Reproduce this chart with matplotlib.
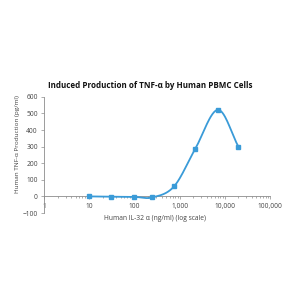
import numpy as np
import matplotlib
matplotlib.use('Agg')
import matplotlib.pyplot as plt
from matplotlib.ticker import FixedLocator, LogLocator, NullFormatter

# data
conc = [10, 30, 100, 250, 750, 2200, 7000, 20000]
tnf = [0, -2, -3, -6, 60, 285, 522, 300]
xticks = [1, 10, 100, 1000, 10000, 100000]
xticklabels = ['1', '10', '100', '1,000', '10,000', '100,000']
yticks = [-100, 0, 100, 200, 300, 400, 500, 600]

blue = '#3a9bd8'
grey = '#8c8c8c'
txt = '#444444'
plt.rcParams['font.family'] = ['Open Sans', 'DejaVu Sans']


# smooth line through the points (catmull-rom in log-x space)
def smooth(xs, ys, n=30):
    px = np.log10(xs)
    py = np.array(ys, dtype=float)
    px = np.concatenate([[2*px[0]-px[1]], px, [2*px[-1]-px[-2]]])
    py = np.concatenate([[2*py[0]-py[1]], py, [2*py[-1]-py[-2]]])
    outx, outy = [], []
    t = np.linspace(0, 1, n)
    for i in range(1, len(px)-2):
        for arr, out in ((px, outx), (py, outy)):
            p0, p1, p2, p3 = arr[i-1], arr[i], arr[i+1], arr[i+2]
            m1 = (p2 - p0) / 2
            m2 = (p3 - p1) / 2
            h00 = 2*t**3 - 3*t**2 + 1
            h10 = t**3 - 2*t**2 + t
            h01 = -2*t**3 + 3*t**2
            h11 = t**3 - t**2
            out.extend(h00*p1 + h10*m1 + h01*p2 + h11*m2)
    return 10**np.array(outx), np.array(outy)


fig = plt.figure(figsize=(3, 3), dpi=100)
ax = fig.add_axes([0.147, 0.29, 0.753, 0.387])

sx, sy = smooth(conc, tnf)
ax.plot(sx, sy, color=blue, lw=1.3, zorder=3)
ax.plot(conc, tnf, 's', color=blue, ms=3.2, zorder=4)

ax.set_xscale('log')
ax.set_xlim(1, 100000)
ax.set_ylim(-100, 600)

ax.xaxis.set_major_locator(FixedLocator(xticks))
ax.set_xticklabels(xticklabels)
ax.xaxis.set_minor_locator(LogLocator(base=10, subs=np.arange(2, 10)))
ax.xaxis.set_minor_formatter(NullFormatter())
ax.set_yticks(yticks)

ax.spines['bottom'].set_position(('data', 0))
for s in ['top', 'right']:
    ax.spines[s].set_visible(False)
for s in ['left', 'bottom']:
    ax.spines[s].set_color(grey)
    ax.spines[s].set_linewidth(0.6)

ax.tick_params(axis='both', which='both', color=grey, width=0.5,
               labelsize=4.8, labelcolor=txt, pad=2)
ax.tick_params(axis='both', which='major', length=2.5)
ax.tick_params(axis='x', which='minor', length=1.5)

fig.text(0.5, 0.715, 'Induced Production of TNF-α by Human PBMC Cells',
         ha='center', va='center', fontsize=5.8, fontweight='bold', color='#111111')
fig.text(0.058, 0.52, 'Human TNF-α Production (pg/ml)', rotation=90,
         ha='center', va='center', fontsize=4.6, color=txt)
fig.text(0.517, 0.272, 'Human IL-32 α (ng/ml) (log scale)',
         ha='center', va='center', fontsize=4.8, color=txt)

fig.savefig('out.png', dpi=100)
